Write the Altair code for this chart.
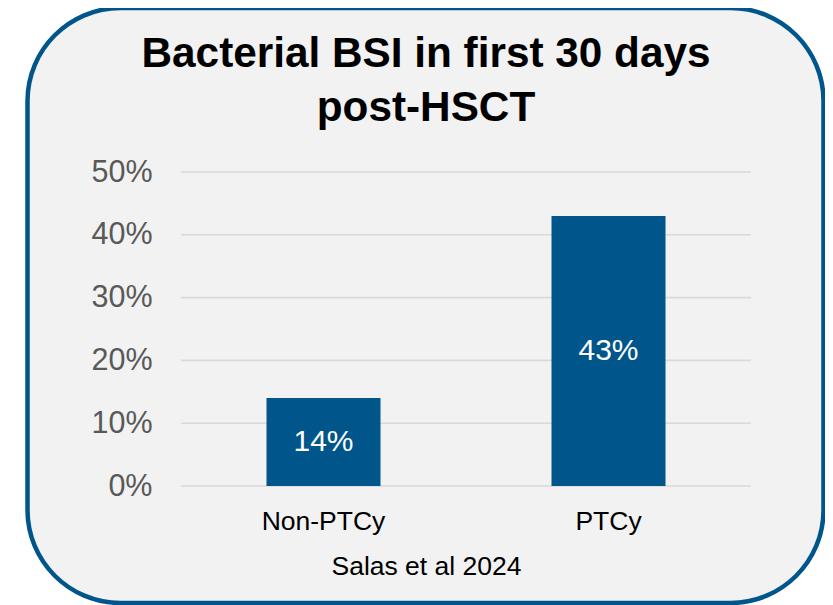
import altair as alt
import pandas as pd

categories = ["Non-PTCy", "PTCy"]
values = [0.14, 0.43]
y_ticks = [0, 0.1, 0.2, 0.3, 0.4, 0.5]
title_lines = ["Bacterial BSI in first 30 days", "post-HSCT"]
caption = "Salas et al 2024"

BLUE = "#00568b"
FONT = "Liberation Sans"

df = pd.DataFrame({"group": categories, "value": values})
grid_df = pd.DataFrame({"tick": y_ticks})

W, H = 570, 314
PAD_L, PAD_T = 173, 164
TOTAL_W, TOTAL_H = 817, 597

frame = alt.Chart(alt.Data(values=[{"k": 1}])).mark_rect(
    fill="#f2f2f2", stroke=BLUE, strokeWidth=4.5, cornerRadius=93
).encode(
    x=alt.value(27.5 - 181), x2=alt.value(823.5 - 181),
    y=alt.value(8 - 172), y2=alt.value(603 - 172)
)

grid = alt.Chart(grid_df).mark_rule(color="#d9d9d9", strokeWidth=1.6).encode(
    y=alt.Y("tick:Q", scale=alt.Scale(domain=[0, 0.5], nice=False))
)

base = alt.Chart(df)

x_enc = alt.X(
    "group:N", sort=categories,
    scale=alt.Scale(paddingInner=0, paddingOuter=0),
    axis=alt.Axis(
        title=caption, labelAngle=0, ticks=False, domain=False, zindex=1,
        labelFont=FONT, labelFontSize=26.5, labelColor="#000000",
        labelBaseline="alphabetic", labelPadding=43,
        titleFont=FONT, titleFontSize=26.5, titleFontWeight="normal",
        titleColor="#000000", titleX=245, titleY=88,
        titleBaseline="alphabetic", titleAlign="center", titleAnchor="start",
    ),
)

bars = base.mark_bar(width=114, color=BLUE).encode(
    x=x_enc,
    y=alt.Y(
        "value:Q",
        scale=alt.Scale(domain=[0, 0.5], nice=False),
        axis=alt.Axis(
            title=None, values=y_ticks, format=".0%", ticks=False, domain=False,
            zindex=1, grid=False,
            labelFont=FONT, labelFontSize=30.5, labelColor="#595959",
            labelPadding=29, labelBaseline="middle",
        ),
    ),
)

labels = base.transform_calculate(
    mid="datum.value / 2"
).mark_text(
    font=FONT, fontSize=30, color="#ffffff", baseline="middle", align="center"
).encode(
    x=alt.X("group:N", sort=categories),
    y=alt.Y("mid:Q"),
    text=alt.Text("value:Q", format=".0%"),
)

chart = alt.layer(frame, grid, bars, labels).properties(
    width=W, height=H,
    autosize=alt.AutoSizeParams(type="none"),
    padding={"left": PAD_L, "top": PAD_T,
             "right": TOTAL_W - PAD_L - W, "bottom": TOTAL_H - PAD_T - H},
    background="#ffffff",
    title=alt.TitleParams(
        text=title_lines, font=FONT, fontSize=42.3, fontWeight="bold",
        color="#000000", anchor="middle", frame="group", dx=-40,
        lineHeight=54, baseline="bottom", offset=-167,
    ),
).configure_view(stroke=None)

chart.save("out.html", embed_options={"renderer": "svg", "actions": False})
